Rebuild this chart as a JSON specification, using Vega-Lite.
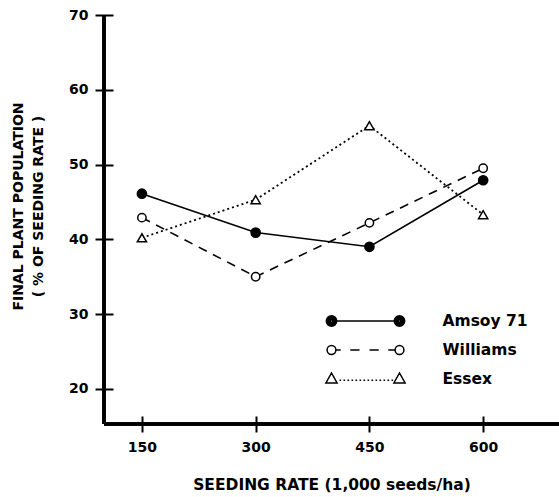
{
  "$schema": "https://vega.github.io/schema/vega-lite/v6.json",
  "width": 455,
  "height": 409,
  "autosize": {"type": "none"},
  "padding": {"left": 104, "top": 15, "right": 0, "bottom": 73},
  "background": "white",
  "config": {
    "view": {"stroke": null},
    "axis": {
      "grid": false,
      "labelFont": "DejaVu Sans",
      "labelFontWeight": "bold",
      "labelFontSize": 14,
      "labelColor": "black",
      "titleFont": "DejaVu Sans",
      "titleFontWeight": "bold",
      "titleFontSize": 14,
      "titleColor": "black",
      "tickColor": "black",
      "tickWidth": 2,
      "labelFlush": false
    }
  },
  "data": {
    "values": [
      {"rate": 150, "pct": 46.1, "variety": "Amsoy 71"},
      {"rate": 300, "pct": 40.9, "variety": "Amsoy 71"},
      {"rate": 450, "pct": 39.0, "variety": "Amsoy 71"},
      {"rate": 600, "pct": 47.9, "variety": "Amsoy 71"},
      {"rate": 150, "pct": 42.9, "variety": "Williams"},
      {"rate": 300, "pct": 35.0, "variety": "Williams"},
      {"rate": 450, "pct": 42.2, "variety": "Williams"},
      {"rate": 600, "pct": 49.5, "variety": "Williams"},
      {"rate": 150, "pct": 40.2, "variety": "Essex"},
      {"rate": 300, "pct": 45.3, "variety": "Essex"},
      {"rate": 450, "pct": 55.2, "variety": "Essex"},
      {"rate": 600, "pct": 43.3, "variety": "Essex"}
    ]
  },
  "layer": [
    {
      "mark": {"type": "point", "size": 0, "filled": false, "color": "black", "strokeWidth": 1.5},
      "encoding": {
        "x": {
          "field": "rate", "type": "quantitative",
          "scale": {"domain": [100, 700], "nice": false, "zero": false},
          "axis": {
            "values": [150, 300, 450, 600],
            "domain": false,
            "offset": -8,
            "tickSize": 16,
            "labelPadding": 8,
            "title": "SEEDING RATE (1,000 seeds/ha)",
            "titleFontSize": 15.5,
            "titlePadding": 23
          }
        },
        "y": {
          "field": "pct", "type": "quantitative",
          "scale": {"domain": [15.3, 70], "nice": false, "zero": false},
          "axis": {
            "values": [20, 30, 40, 50, 60, 70],
            "domain": false,
            "offset": -9,
            "tickSize": 18,
            "labelPadding": 7,
            "title": ["FINAL PLANT POPULATION", "( % OF SEEDING RATE )"],
            "titleLineHeight": 20,
            "titleAlign": "center",
            "titleBaseline": "bottom",
            "titleX": -88,
            "titleY": 191
          }
        },
        "shape": {
          "field": "variety", "type": "nominal",
          "scale": {
            "domain": ["Amsoy 71", "Williams", "Essex"],
            "range": [
              "M-2.88,0L2.88,0M-2.88,0A0.52,0.52,0,1,1,-3.92,0A0.52,0.52,0,1,1,-2.88,0ZM-2.98,0A0.42,0.42,0,1,1,-3.82,0A0.42,0.42,0,1,1,-2.98,0ZM-3.08,0A0.32,0.32,0,1,1,-3.72,0A0.32,0.32,0,1,1,-3.08,0ZM-3.18,0A0.22,0.22,0,1,1,-3.62,0A0.22,0.22,0,1,1,-3.18,0ZM-3.28,0A0.12,0.12,0,1,1,-3.52,0A0.12,0.12,0,1,1,-3.28,0ZM3.92,0A0.52,0.52,0,1,1,2.88,0A0.52,0.52,0,1,1,3.92,0ZM3.82,0A0.42,0.42,0,1,1,2.98,0A0.42,0.42,0,1,1,3.82,0ZM3.72,0A0.32,0.32,0,1,1,3.08,0A0.32,0.32,0,1,1,3.72,0ZM3.62,0A0.22,0.22,0,1,1,3.18,0A0.22,0.22,0,1,1,3.62,0ZM3.52,0A0.12,0.12,0,1,1,3.28,0A0.12,0.12,0,1,1,3.52,0Z",
              "M-2.96,0L-2.48,0M-1.52,0L-0.6,0M0.4,0L1.32,0M2.28,0L2.96,0M-2.96,0A0.44,0.44,0,1,1,-3.84,0A0.44,0.44,0,1,1,-2.96,0ZM3.84,0A0.44,0.44,0,1,1,2.96,0A0.44,0.44,0,1,1,3.84,0Z",
              "M-2.6,0.12L-2.44,0.12M-2.2,0.12L-2.04,0.12M-1.8,0.12L-1.64,0.12M-1.4,0.12L-1.24,0.12M-1,0.12L-0.84,0.12M-0.6,0.12L-0.44,0.12M-0.2,0.12L-0.04,0.12M0.2,0.12L0.36,0.12M0.6,0.12L0.76,0.12M1,0.12L1.16,0.12M1.4,0.12L1.56,0.12M1.8,0.12L1.96,0.12M2.2,0.12L2.36,0.12M2.6,0.12L2.76,0.12M-3.96,0.4L-2.84,0.4L-3.4,-0.6ZM2.84,0.4L3.96,0.4L3.4,-0.6Z"
            ]
          },
          "legend": {
            "orient": "none",
            "legendX": 223,
            "legendY": 295,
            "title": null,
            "padding": 0,
            "labelFont": "DejaVu Sans",
            "labelFontWeight": "bold",
            "labelFontSize": 15.5,
            "labelColor": "black",
            "symbolSize": 400,
            "symbolOpacity": 1,
            "symbolFillColor": "white",
            "symbolStrokeColor": "black",
            "symbolStrokeWidth": 1.5,
            "symbolOffset": 27.5,
            "labelOffset": 66,
            "rowPadding": 9
          }
        }
      }
    },
    {
      "mark": {"type": "rule", "color": "black", "strokeWidth": 2.5},
      "encoding": {"x": {"datum": 100, "type": "quantitative"}}
    },
    {
      "mark": {"type": "rule", "color": "black", "strokeWidth": 2.5},
      "encoding": {"y": {"datum": 15.3, "type": "quantitative"}}
    },
    {
      "transform": [{"filter": "datum.variety === 'Amsoy 71'"}],
      "mark": {"type": "line", "color": "black", "strokeWidth": 1.6},
      "encoding": {"x": {"field": "rate", "type": "quantitative"}, "y": {"field": "pct", "type": "quantitative"}}
    },
    {
      "transform": [{"filter": "datum.variety === 'Williams'"}],
      "mark": {"type": "line", "color": "black", "strokeWidth": 1.6, "strokeDash": [9, 7]},
      "encoding": {"x": {"field": "rate", "type": "quantitative"}, "y": {"field": "pct", "type": "quantitative"}}
    },
    {
      "transform": [{"filter": "datum.variety === 'Essex'"}],
      "mark": {"type": "line", "color": "black", "strokeWidth": 1.8, "strokeDash": [2, 3]},
      "encoding": {"x": {"field": "rate", "type": "quantitative"}, "y": {"field": "pct", "type": "quantitative"}}
    },
    {
      "transform": [{"filter": "datum.variety === 'Amsoy 71'"}],
      "mark": {"type": "point", "shape": "circle", "size": 85, "fill": "black", "stroke": "black", "strokeWidth": 1.5, "opacity": 1},
      "encoding": {"x": {"field": "rate", "type": "quantitative"}, "y": {"field": "pct", "type": "quantitative"}}
    },
    {
      "transform": [{"filter": "datum.variety === 'Williams'"}],
      "mark": {"type": "point", "shape": "circle", "size": 70, "fill": "white", "stroke": "black", "strokeWidth": 1.5, "opacity": 1},
      "encoding": {"x": {"field": "rate", "type": "quantitative"}, "y": {"field": "pct", "type": "quantitative"}}
    },
    {
      "transform": [{"filter": "datum.variety === 'Essex'"}],
      "mark": {"type": "point", "shape": "triangle-up", "size": 85, "fill": "white", "stroke": "black", "strokeWidth": 1.5, "opacity": 1},
      "encoding": {"x": {"field": "rate", "type": "quantitative"}, "y": {"field": "pct", "type": "quantitative"}}
    }
  ]
}
